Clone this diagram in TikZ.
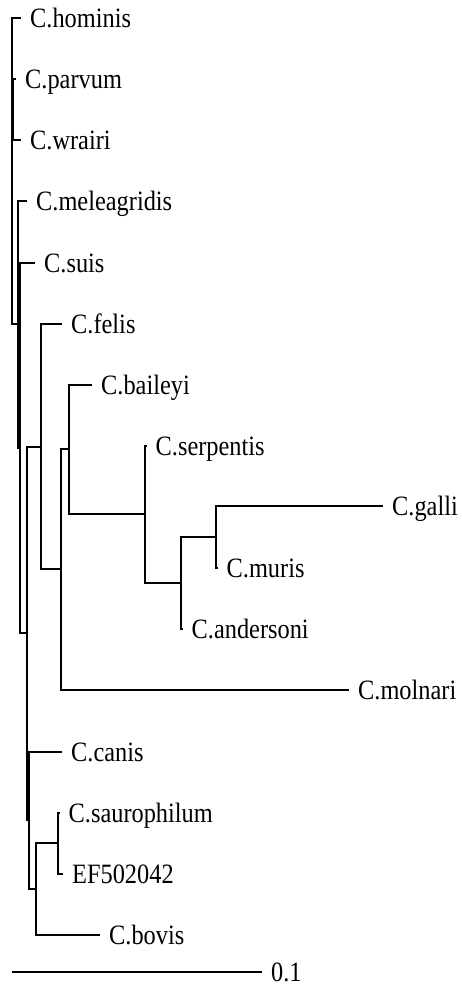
\documentclass[tikz,border=0pt]{standalone}
\usepackage{fontspec}
\setmainfont[FakeStretch=0.87]{Liberation Serif}
\begin{document}
\begin{tikzpicture}[x=1pt,y=-1pt,
  br/.style={line width=1.6pt,line join=miter},
  lab/.style={anchor=base west,inner sep=0pt,font=\fontsize{28}{28}\selectfont,
              xshift=9pt,yshift=-9.3pt}]
\useasboundingbox[fill=white] (0,0) rectangle (461,987);

% internal nodes of the tree
\coordinate (R)  at (12,171);
\coordinate (PW) at (13,109);
\coordinate (A)  at (18,324);
\coordinate (B)  at (20,448);
\coordinate (C)  at (27,633);
\coordinate (D)  at (41,447);
\coordinate (F)  at (61,569);
\coordinate (G)  at (69,449);
\coordinate (H)  at (145,514);
\coordinate (I)  at (181,583);
\coordinate (J)  at (216,537);
\coordinate (E)  at (29,820);
\coordinate (L)  at (36,889);
\coordinate (K)  at (58,843);

% leaf tips
\coordinate (t-hom) at (21,18);
\coordinate (t-par) at (16,79);
\coordinate (t-wra) at (21,140);
\coordinate (t-mel) at (27,201);
\coordinate (t-sui) at (35,263);
\coordinate (t-fel) at (62,324);
\coordinate (t-bai) at (92,385);
\coordinate (t-ser) at (146.5,446);
\coordinate (t-gal) at (383,506);
\coordinate (t-mur) at (217.5,568);
\coordinate (t-and) at (182.5,629);
\coordinate (t-mol) at (349,690);
\coordinate (t-can) at (62,752);
\coordinate (t-sau) at (59.5,813);
\coordinate (t-ef)  at (63,874);
\coordinate (t-bov) at (100,935);

% branches
\draw[br] (R) |- (t-hom);
\draw[br] (R) |- (PW);
\draw[br] (R) |- (A);
\draw[br] (PW) |- (t-par);
\draw[br] (PW) |- (t-wra);
\draw[br] (A) |- (t-mel);
\draw[br] (A) |- (B);
\draw[br] (B) |- (t-sui);
\draw[br] (B) |- (C);
\draw[br] (C) |- (D);
\draw[br] (C) |- (E);
\draw[br] (D) |- (t-fel);
\draw[br] (D) |- (F);
\draw[br] (F) |- (G);
\draw[br] (F) |- (t-mol);
\draw[br] (G) |- (t-bai);
\draw[br] (G) |- (H);
\draw[br] (H) |- (t-ser);
\draw[br] (H) |- (I);
\draw[br] (I) |- (J);
\draw[br] (I) |- (t-and);
\draw[br] (J) |- (t-gal);
\draw[br] (J) |- (t-mur);
\draw[br] (E) |- (t-can);
\draw[br] (E) |- (L);
\draw[br] (L) |- (K);
\draw[br] (L) |- (t-bov);
\draw[br] (K) |- (t-sau);
\draw[br] (K) |- (t-ef);

% taxon labels
\node[lab] (hom) at (t-hom) {C.hominis};
\node[lab] (par) at (t-par) {C.parvum};
\node[lab] (wra) at (t-wra) {C.wrairi};
\node[lab] (mel) at (t-mel) {C.meleagridis};
\node[lab] (sui) at (t-sui) {C.suis};
\node[lab] (fel) at (t-fel) {C.felis};
\node[lab] (bai) at (t-bai) {C.baileyi};
\node[lab] (ser) at (t-ser) {C.serpentis};
\node[lab] (gal) at (t-gal) {C.galli};
\node[lab] (mur) at (t-mur) {C.muris};
\node[lab] (and) at (t-and) {C.andersoni};
\node[lab] (mol) at (t-mol) {C.molnari};
\node[lab] (can) at (t-can) {C.canis};
\node[lab] (sau) at (t-sau) {C.saurophilum};
\node[lab] (ef)  at (t-ef)  {EF502042};
\node[lab] (bov) at (t-bov) {C.bovis};

% scale bar
\coordinate (s0) at (12,972);
\coordinate (s1) at (262,972);
\draw[br] (s0) -- (s1);
\node[lab] (sc) at (s1) {0.1};
\end{tikzpicture}
\end{document}
